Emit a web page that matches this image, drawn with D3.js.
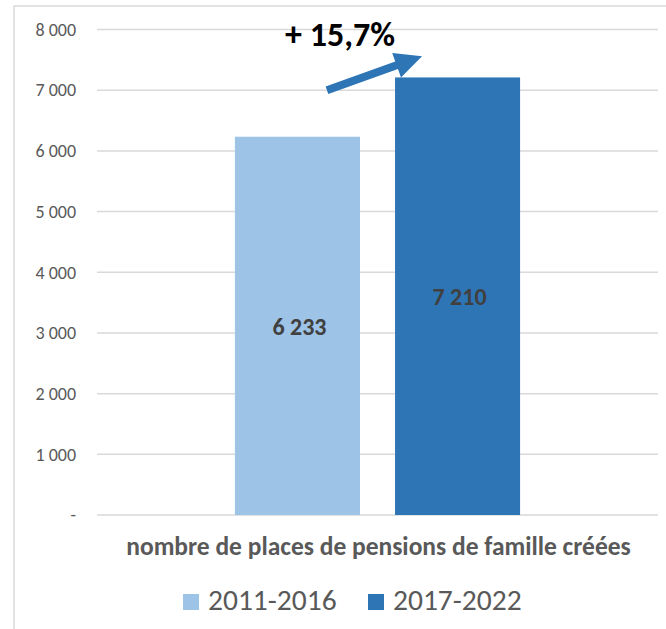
<!DOCTYPE html>
<html>
<head>
  <title>D3</title>
  <meta charset='utf-8'>
  <style>
    body { margin: 0; background: #fff; }
    text { font-family: Carlito, Calibri, Lato, sans-serif; }
  </style>
</head>
<body>
  <div id="chart"></div>

  <script src="https://cdn.jsdelivr.net/npm/d3@7"></script>

  <script type="text/javascript">
    var categories = ["nombre de places de pensions de famille créées"];
    var series = ["2011-2016", "2017-2022"];
    var values = [6233, 7210];
    var colors = ["#9dc3e6", "#2e75b6"];
    var yTicks = [0, 1000, 2000, 3000, 4000, 5000, 6000, 7000, 8000];
    var growthLabel = "+ 15,7%";

    var width = 666,
        height = 629;

    var plotLeft = 97, plotRight = 658, plotTop = 29.5, plotBottom = 515;

    var svg = d3.select("#chart")
                .append("svg")
                .attr("width", width)
                .attr("height", height);

    // chart frame
    svg.append("rect")
        .attr("x", 14).attr("y", 6)
        .attr("width", 700).attr("height", 700)
        .attr("fill", "none")
        .attr("stroke", "#d9d9d9")
        .attr("stroke-width", 1.5);

    var y = d3.scaleLinear().domain([0, 8000]).range([plotBottom, plotTop]);

    var x0 = d3.scaleBand().domain(categories).range([plotLeft, plotRight]).padding(0.326);
    var x1 = d3.scaleBand().domain(series).range([0, x0.bandwidth()])
               .paddingInner(0.219).paddingOuter(0);

    var fmt = function(v) { return v === 0 ? "-" : d3.format(",")(v).replace(/,/g, " "); };

    // gridlines
    svg.selectAll(".grid")
        .data(yTicks)
        .enter()
        .append("line")
        .attr("x1", plotLeft).attr("x2", plotRight)
        .attr("y1", function(d) { return y(d); })
        .attr("y2", function(d) { return y(d); })
        .attr("stroke", "#d9d9d9")
        .attr("stroke-width", 1.5);

    // y axis labels
    var yAxis = d3.axisLeft(y).tickValues(yTicks).tickFormat(fmt).tickSize(0).tickPadding(0);
    var ya = svg.append("g").attr("transform", "translate(76,0)").call(yAxis);
    ya.select(".domain").remove();
    ya.selectAll("text")
        .attr("font-family", "Carlito, Calibri, Lato, sans-serif")
        .attr("font-size", 18)
        .attr("fill", "#595959");

    // bars
    var g = svg.append("g").attr("transform", "translate(" + x0(categories[0]) + ",0)");

    g.selectAll(".bar")
        .data(values)
        .enter()
        .append("rect")
        .attr("x", function(d, i) { return x1(series[i]); })
        .attr("y", function(d) { return y(d); })
        .attr("width", x1.bandwidth())
        .attr("height", function(d) { return plotBottom - y(d); })
        .attr("fill", function(d, i) { return colors[i]; });

    // value labels, in the middle of each bar
    g.selectAll(".val")
        .data(values)
        .enter()
        .append("text")
        .attr("x", function(d, i) { return x1(series[i]) + x1.bandwidth() / 2 + 2; })
        .attr("y", function(d) { return (y(d) + plotBottom) / 2 + 9; })
        .attr("text-anchor", "middle")
        .attr("font-size", 24)
        .attr("font-weight", "bold")
        .attr("fill", "#404040")
        .text(fmt);

    // category label
    svg.append("text")
        .attr("x", x0(categories[0]) + x0.bandwidth() / 2 + 1)
        .attr("y", 555)
        .attr("text-anchor", "middle")
        .attr("font-size", 25.5)
        .attr("font-weight", "bold")
        .attr("fill", "#595959")
        .text(categories[0]);

    // legend
    var legend = svg.selectAll(".legend")
        .data(series)
        .enter()
        .append("g")
        .attr("transform", function(d, i) { return "translate(" + (183 + i * 185) + ",594)"; });

    legend.append("rect")
        .attr("width", 16).attr("height", 16)
        .attr("fill", function(d, i) { return colors[i]; });

    legend.append("text")
        .attr("x", 25).attr("y", 16)
        .attr("font-size", 29.5)
        .attr("fill", "#595959")
        .text(function(d) { return d; });

    // growth arrow from first bar to second
    var sx = x0(categories[0]) + x1(series[0]) + x1.bandwidth() - 33,
        sy = y(7000),
        tx = x0(categories[0]) + x1(series[1]) + 27,
        ty = y(7560);
    var dx = tx - sx, dy = ty - sy, len = Math.sqrt(dx * dx + dy * dy);
    var ux = dx / len, uy = dy / len, nx = -uy, ny = ux;
    var hw = 4, headLen = 27, headW = 13;
    var bx = tx - ux * headLen, by = ty - uy * headLen;
    var pts = [
      [sx + nx * hw, sy + ny * hw],
      [bx + nx * hw, by + ny * hw],
      [bx + nx * headW, by + ny * headW],
      [tx, ty],
      [bx - nx * headW, by - ny * headW],
      [bx - nx * hw, by - ny * hw],
      [sx - nx * hw, sy - ny * hw]
    ];
    svg.append("path")
        .attr("d", d3.line()(pts) + "Z")
        .attr("fill", colors[1]);

    svg.append("text")
        .attr("x", 340)
        .attr("y", 46)
        .attr("text-anchor", "middle")
        .attr("font-size", 34)
        .attr("font-weight", "bold")
        .attr("fill", "#000")
        .text(growthLabel);
  </script>
</body>
</html>
